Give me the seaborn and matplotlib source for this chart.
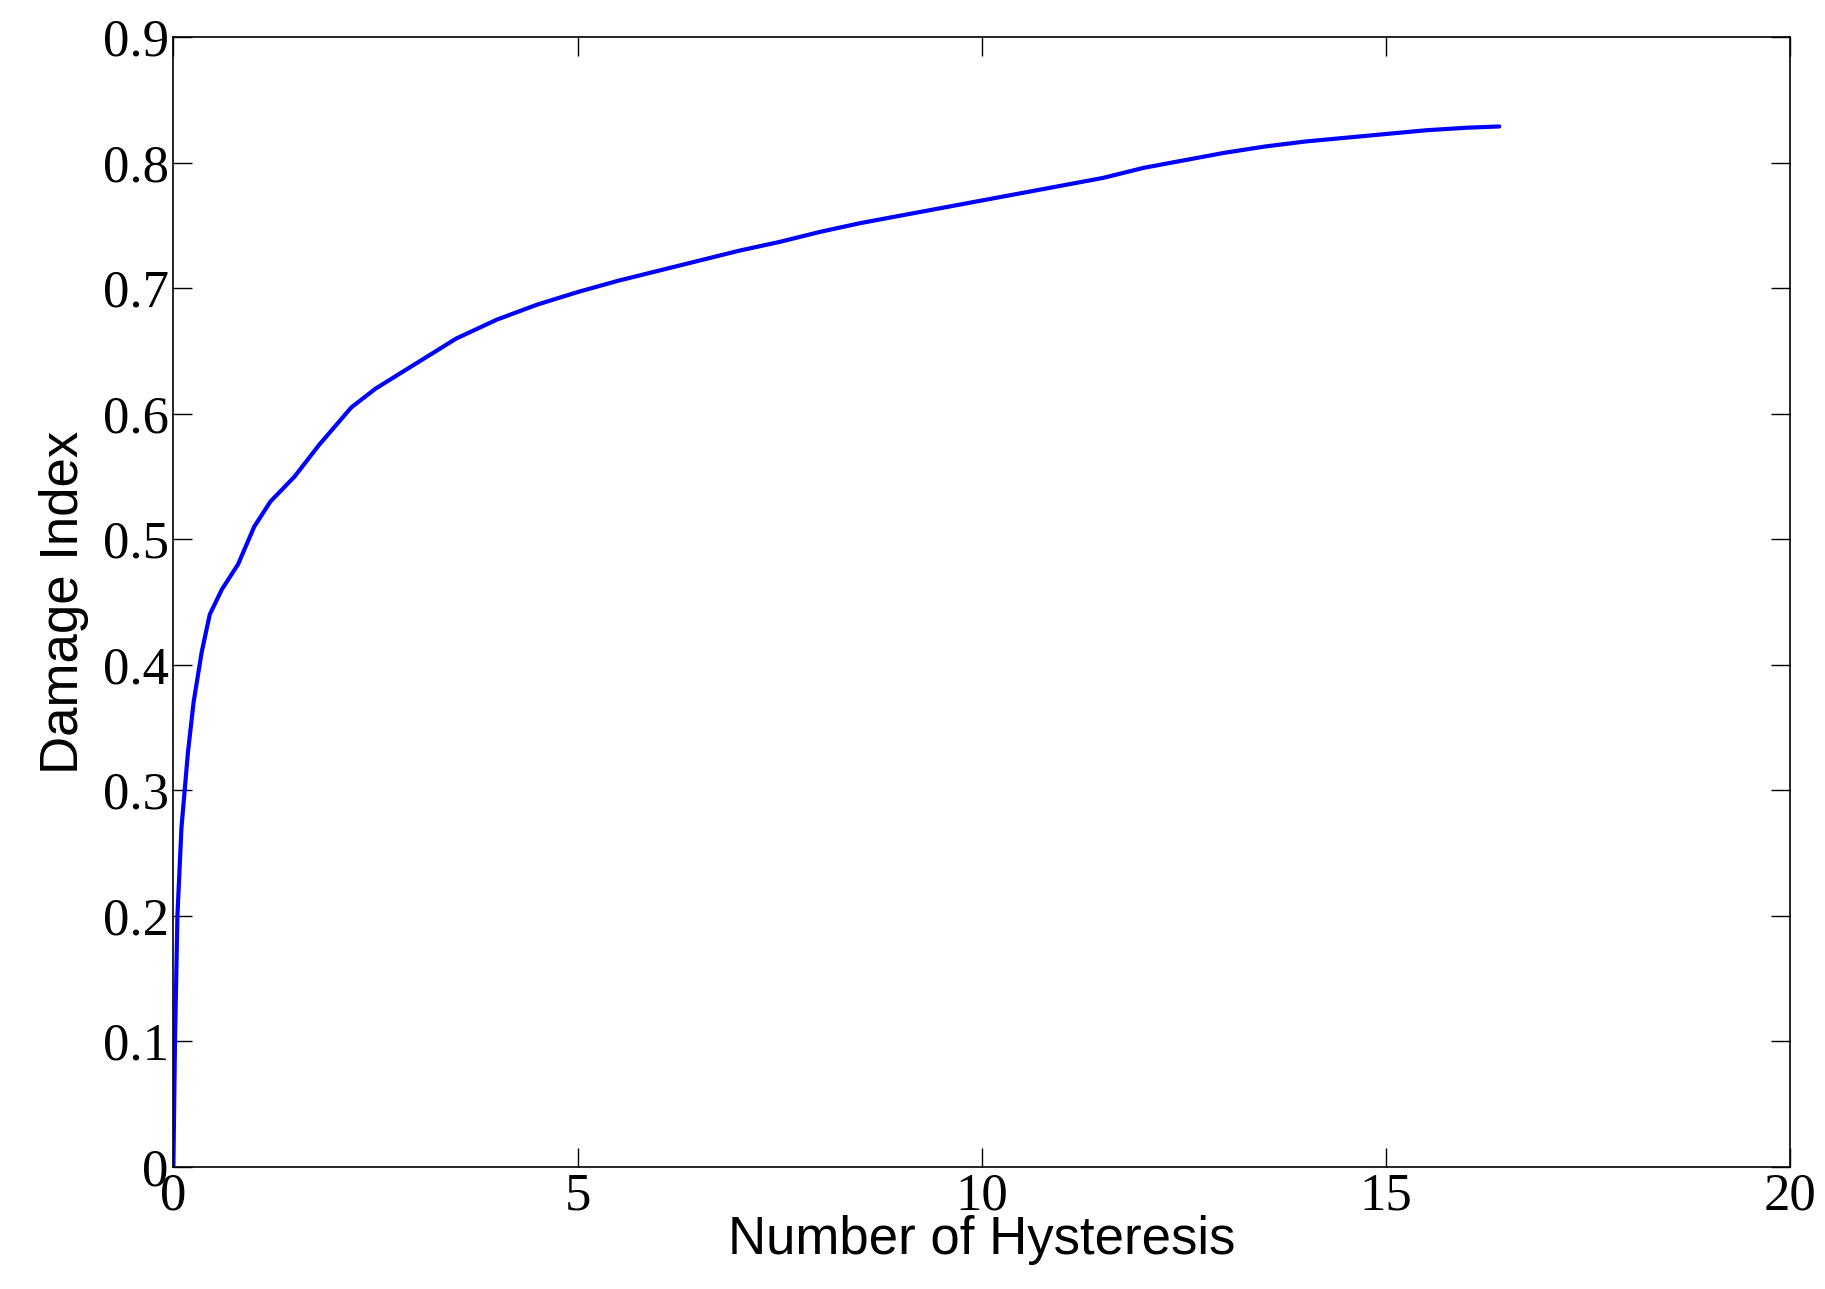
import matplotlib
matplotlib.use("Agg")
import matplotlib.pyplot as plt
import seaborn as sns
import pandas as pd

# values
hysteresis = [0, 0.02, 0.05, 0.1, 0.18, 0.25, 0.35, 0.45, 0.6, 0.8, 1.0, 1.2, 1.5, 1.8,
              2.0, 2.2, 2.5, 3.0, 3.5, 4.0, 4.5, 5.0, 5.5, 6.0, 6.5, 7.0, 7.5, 8.0, 8.5,
              9.0, 9.5, 10.0, 10.5, 11.0, 11.5, 12.0, 12.5, 13.0, 13.5, 14.0, 14.5, 15.0,
              15.5, 16.0, 16.4]
damage = [0, 0.1, 0.2, 0.27, 0.33, 0.37, 0.41, 0.44, 0.46, 0.48, 0.51, 0.53, 0.55, 0.575,
          0.59, 0.605, 0.62, 0.64, 0.66, 0.675, 0.687, 0.697, 0.706, 0.714, 0.722, 0.73,
          0.737, 0.745, 0.752, 0.758, 0.764, 0.77, 0.776, 0.782, 0.788, 0.796, 0.802,
          0.808, 0.813, 0.817, 0.82, 0.823, 0.826, 0.828, 0.829]

df = pd.DataFrame({"x": hysteresis, "y": damage})

sns.set_style("ticks")
plt.rcParams.update({"text.color": "black", "axes.labelcolor": "black",
                     "xtick.color": "black", "ytick.color": "black"})
fig = plt.figure(figsize=(18.25, 12.89), dpi=100)
ax = fig.add_axes([0.095, 0.095, 0.886, 0.876])
sns.lineplot(data=df, x="x", y="y", ax=ax, color="blue", linewidth=3)

ax.set_xlim(0, 20)
ax.set_ylim(0, 0.9)
ax.set_xticks([0, 5, 10, 15, 20])
ax.set_yticks([i / 10 for i in range(10)])
ax.set_yticklabels(["0"] + [f"{i/10:.1f}" for i in range(1, 10)])
ax.tick_params(direction="in", length=14, width=1, top=True, right=True, labelsize=38)
ax.tick_params(axis="x", pad=4)
for lab in ax.get_xticklabels() + ax.get_yticklabels():
    lab.set_family("Liberation Serif")
for s in ax.spines.values():
    s.set_linewidth(1.2)
    s.set_color("black")
ax.set_xlabel("Number of Hysteresis", fontsize=38, family="Liberation Sans", labelpad=-4)
ax.set_ylabel("Damage Index", fontsize=38, family="Liberation Sans", labelpad=10)

fig.savefig("out.png", dpi=100, facecolor="white")
